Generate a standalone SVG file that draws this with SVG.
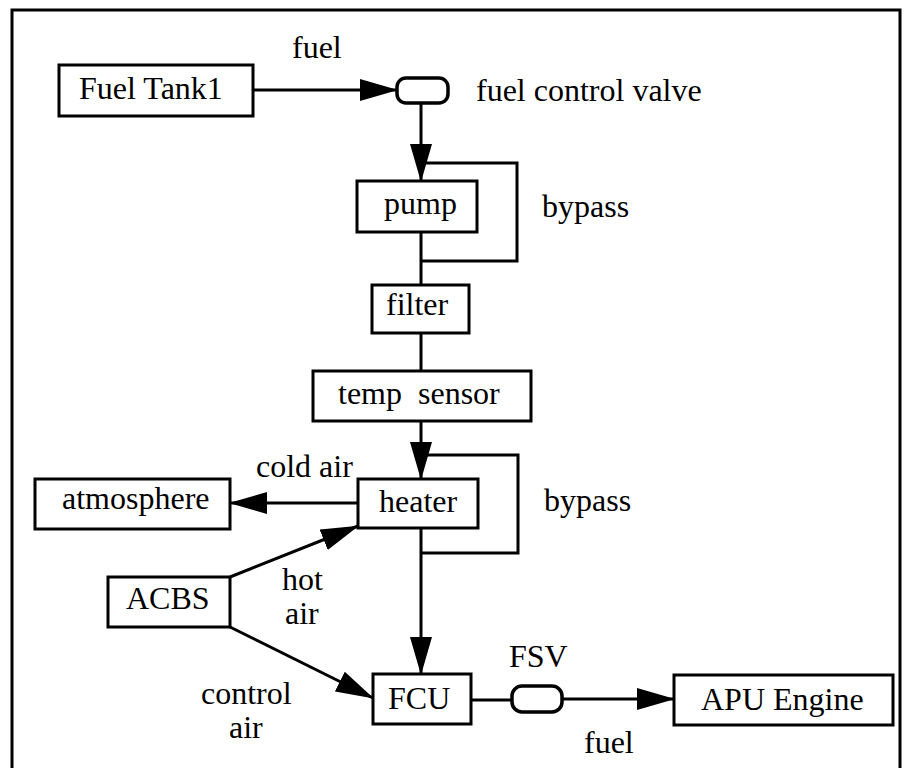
<svg xmlns="http://www.w3.org/2000/svg" width="908" height="768" viewBox="0 0 908 768">
  <style>
    .box { fill: #fff; stroke: #000; stroke-width: 3; }
    .valve { fill: #fff; stroke: #000; stroke-width: 3.5; }
    .line { fill: none; stroke: #000; stroke-width: 3; }
    .arr { fill: none; stroke: #000; stroke-width: 3; marker-end: url(#ah); }
    text { font-family: "Liberation Serif", "Times New Roman", serif; font-size: 32px; fill: #000; white-space: pre; }
  </style>
  <defs>
    <marker id="ah" viewBox="0 0 38 22" markerWidth="38" markerHeight="22" refX="37" refY="11" orient="auto" markerUnits="userSpaceOnUse">
      <path d="M0,0 L38,11 L0,22 Z" fill="#000"/>
    </marker>
  </defs>
  <rect width="908" height="768" fill="#fff"/>
  <path d="M12,775 V10 H900 V775" fill="none" stroke="#000" stroke-width="3"/>

  <g id="connectors">
    <line class="arr" x1="253" y1="90" x2="397" y2="90"/>
    <line class="arr" x1="421" y1="103" x2="421" y2="181"/>
    <path class="line" d="M421,163 H517 V261 H421"/>
    <line class="line" x1="421" y1="232" x2="421" y2="285"/>
    <line class="line" x1="421" y1="333" x2="421" y2="371"/>
    <line class="arr" x1="421" y1="421" x2="421" y2="479"/>
    <path class="line" d="M421,455 H518 V553 H421"/>
    <line class="arr" x1="421" y1="528" x2="421" y2="674"/>
    <line class="arr" x1="358" y1="503" x2="230" y2="503"/>
    <line class="arr" x1="230" y1="577" x2="358" y2="526"/>
    <line class="arr" x1="230" y1="627" x2="373" y2="698"/>
    <line class="line" x1="471" y1="700" x2="512" y2="700"/>
    <line class="arr" x1="562" y1="699" x2="674" y2="699"/>
    <text x="292" y="58">fuel</text>
    <text x="542" y="217">bypass</text>
    <text x="256" y="477">cold air</text>
    <text x="544" y="511">bypass</text>
    <text x="282" y="590">hot</text>
    <text x="285" y="624">air</text>
    <text x="201" y="704">control</text>
    <text x="229" y="738">air</text>
    <text x="584" y="753">fuel</text>
  </g>

  <g id="fuel-tank1">
    <rect class="box" x="59" y="65" width="194" height="51"/>
    <text x="79" y="99">Fuel Tank1</text>
  </g>
  <g id="fuel-control-valve">
    <rect class="valve" x="397" y="78" width="51" height="25" rx="9"/>
    <text x="476" y="101">fuel control valve</text>
  </g>
  <g id="pump">
    <rect class="box" x="357" y="181" width="120" height="51"/>
    <text x="384" y="214">pump</text>
  </g>
  <g id="filter">
    <rect class="box" x="372" y="285" width="97" height="48"/>
    <text x="386" y="315">filter</text>
  </g>
  <g id="temp-sensor">
    <rect class="box" x="313" y="371" width="218" height="50"/>
    <text x="338" y="404">temp  sensor</text>
  </g>
  <g id="heater">
    <rect class="box" x="358" y="479" width="120" height="49"/>
    <text x="379" y="512">heater</text>
  </g>
  <g id="atmosphere">
    <rect class="box" x="35" y="479" width="195" height="50"/>
    <text x="62" y="509">atmosphere</text>
  </g>
  <g id="acbs">
    <rect class="box" x="108" y="577" width="122" height="50"/>
    <text x="126" y="609">ACBS</text>
  </g>
  <g id="fcu">
    <rect class="box" x="373" y="674" width="98" height="50"/>
    <text x="388" y="709">FCU</text>
  </g>
  <g id="fsv">
    <rect class="valve" x="512" y="686" width="50" height="26" rx="10"/>
    <text x="509" y="667">FSV</text>
  </g>
  <g id="apu-engine">
    <rect class="box" x="674" y="675" width="219" height="50"/>
    <text x="701" y="710">APU Engine</text>
  </g>
</svg>
